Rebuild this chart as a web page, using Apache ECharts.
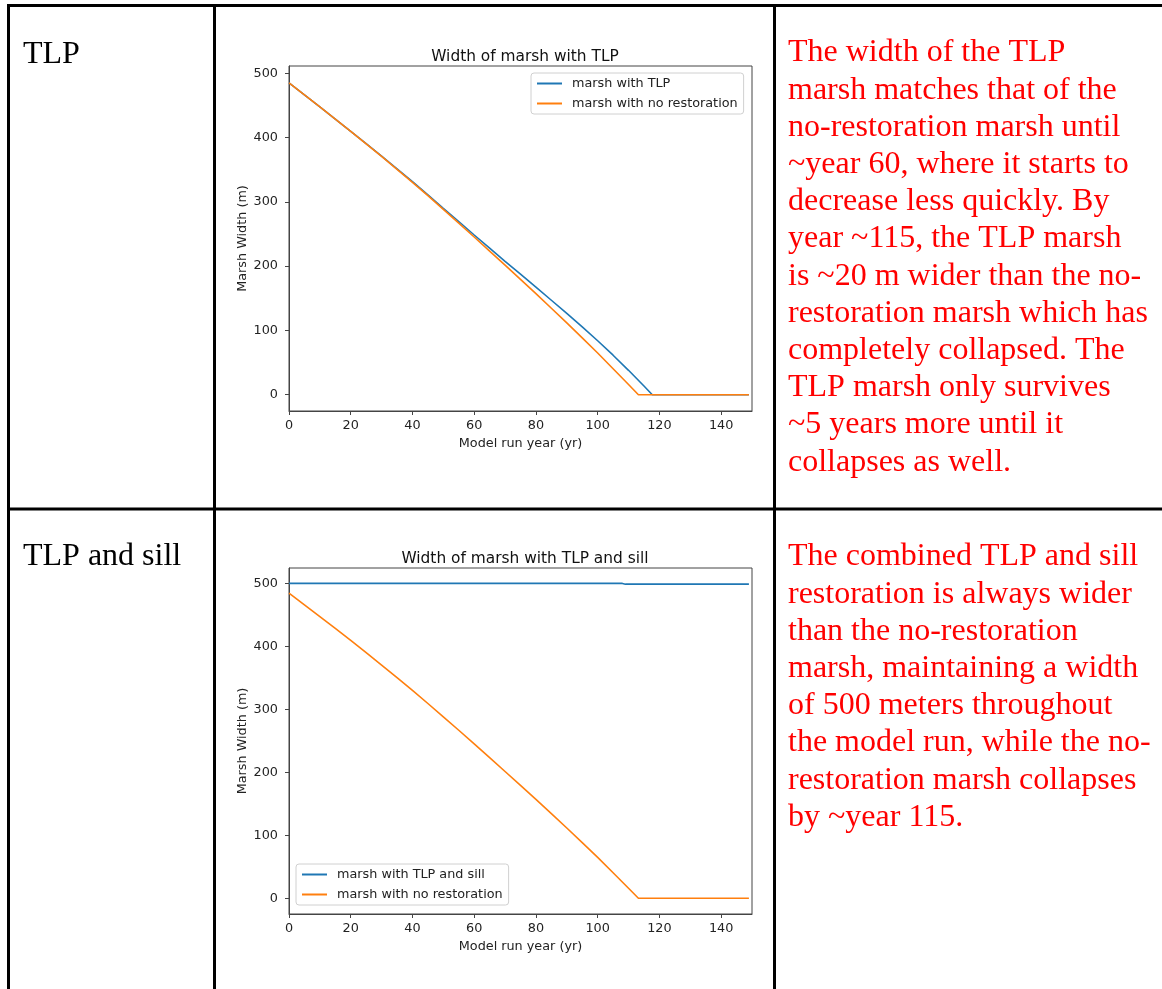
<!DOCTYPE html>
<html>
<head>
<meta charset="utf-8">
<script src="https://cdn.jsdelivr.net/npm/echarts@6/dist/echarts.min.js"></script>
<style>
html,body{margin:0;padding:0;background:#fff;}
#c{width:1162px;height:989px;}
</style>
</head>
<body>
<div id="c"></div>
<script>
// ---- data ----
var years = [0,5,10,15,20,25,30,35,40,45,50,55,60,65,70,75,80,85,90,95,100,105,110,113.2,120,125,130,135,140,145,149];
var noRestoration = [485,466.5,447.8,428.9,409.8,390.4,370.7,350.7,330.4,309.6,288.5,267.1,245.4,223.5,201.5,179.4,157.2,134.6,111.7,88.5,65,40.5,16,0,0,0,0,0,0,0,0];
var tlpYears = [0,5,10,15,20,25,30,35,40,45,50,55,60,65,70,75,80,85,90,95,100,105,110,115,117.7,120,125,130,135,140,145,149];
var tlpWidth = [485,466.5,447.8,428.9,409.8,390.6,371.2,351.5,331.5,311,290,269.5,248.5,228,207.5,187.5,167.5,147,126.5,105.5,84,61.5,38,13.5,0,0,0,0,0,0,0,0];
var sillYears = [0,20,40,60,80,100,108,109,120,140,149];
var sillWidth = [500.5,500.5,500.5,500.5,500.5,500.5,500.5,499.3,499.3,499.3,499.3];
var xTicks = [0,20,40,60,80,100,120,140];
var yTicks = [0,100,200,300,400,500];
var rowLabels = ['TLP','TLP and sill'];
var chartTitles = ['Width of marsh with TLP','Width of marsh with TLP and sill'];
var seriesNames = ['marsh with TLP','marsh with no restoration','marsh with TLP and sill'];
var notes = [
 ['The width of the TLP','marsh matches that of the','no-restoration marsh until','~year 60, where it starts to','decrease less quickly. By','year ~115, the TLP marsh','is ~20 m wider than the no-','restoration marsh which has','completely collapsed. The','TLP marsh only survives','~5 years more until it','collapses as well.'],
 ['The combined TLP and sill','restoration is always wider','than the no-restoration','marsh, maintaining a width','of 500 meters throughout','the model run, while the no-','restoration marsh collapses','by ~year 115.']
];
var xLabel = 'Model run year (yr)';
var yLabel = 'Marsh Width (m)';

function pairs(xs, ys){ return xs.map(function(x,i){ return [x, ys[i]]; }); }

var BLUE = '#1f77b4', ORANGE = '#ff7f0e';
var FONT = 'DejaVu Sans';
var SERIF = 'Liberation Serif';
var FS = 12.8;

function xAxisFor(gi){
  return {
    type:'value', gridIndex:gi, min:0, max:150,
    name:xLabel, nameLocation:'middle', nameGap:26,
    nameTextStyle:{fontFamily:FONT,fontSize:FS,color:'#222'},
    axisLine:{show:true,onZero:false,lineStyle:{color:'#444',width:1}},
    axisTick:{show:true,length:4,customValues:xTicks,lineStyle:{color:'#444'}},
    axisLabel:{customValues:xTicks,margin:8,fontFamily:FONT,fontSize:FS,color:'#222'},
    splitLine:{show:false}
  };
}
function yAxisFor(gi,min,max){
  return {
    type:'value', gridIndex:gi, min:min, max:max,
    name:yLabel, nameLocation:'middle', nameGap:40,
    nameTextStyle:{fontFamily:FONT,fontSize:FS,color:'#222'},
    axisLine:{show:true,onZero:false,lineStyle:{color:'#444',width:1}},
    axisTick:{show:true,length:4,customValues:yTicks,lineStyle:{color:'#444'}},
    axisLabel:{customValues:yTicks,margin:11,fontFamily:FONT,fontSize:FS,color:'#222'},
    splitLine:{show:false}
  };
}

var graphics = [];
function hline(y,x1,x2){ graphics.push({type:'line',shape:{x1:x1,y1:y,x2:x2,y2:y},style:{stroke:'#000',lineWidth:3},z:100}); }
function vline(x,y1,y2){ graphics.push({type:'line',shape:{x1:x,y1:y1,x2:x,y2:y2},style:{stroke:'#000',lineWidth:3},z:100}); }
hline(5.5,7,1162);
hline(509,7,1162);
vline(8.5,4,989);
vline(214.5,4,989);
vline(774.5,4,989);

var labelY = [55,557];
rowLabels.forEach(function(t,i){
  graphics.push({type:'text',x:23,y:labelY[i],style:{text:t,fontFamily:SERIF,fontSize:32,fill:'#000',verticalAlign:'middle',align:'left'}});
});
var noteTop = [53,557];
notes.forEach(function(lines,p){
  lines.forEach(function(t,i){
    graphics.push({type:'text',x:788,y:noteTop[p]+i*37.2,style:{text:t,fontFamily:SERIF,fontSize:32,fill:'#ff0000',verticalAlign:'middle',align:'left'}});
  });
});

function legendFor(names,left,top){
  return {data:names,left:left,top:top,orient:'vertical',
    icon:'rect',itemWidth:25,itemHeight:2,itemGap:5,
    padding:[3,6,3,6],borderColor:'#d0d0d0',borderWidth:1,borderRadius:3,backgroundColor:'#fff',
    textStyle:{fontFamily:FONT,fontSize:FS,color:'#222',lineHeight:15,padding:[0,0,0,5]}};
}

var option = {
  animation:false,
  backgroundColor:'#fff',
  title:[
    {text:chartTitles[0],left:520,top:44,textAlign:'center',textStyle:{fontFamily:FONT,fontSize:15.4,fontWeight:'normal',color:'#111'}},
    {text:chartTitles[1],left:520,top:546,textAlign:'center',textStyle:{fontFamily:FONT,fontSize:15.4,fontWeight:'normal',color:'#111'}}
  ],
  grid:[
    {left:289,top:66,width:463,height:345,show:true,borderColor:'#444',borderWidth:1,backgroundColor:'transparent'},
    {left:289,top:568,width:463,height:346,show:true,borderColor:'#444',borderWidth:1,backgroundColor:'transparent'}
  ],
  xAxis:[xAxisFor(0),xAxisFor(1)],
  yAxis:[yAxisFor(0,-25.3,511.4),yAxisFor(1,-25,525)],
  legend:[
    legendFor([seriesNames[0],seriesNames[1]],531,73),
    legendFor([seriesNames[2],seriesNames[1]],296,864)
  ],
  series:[
    {name:seriesNames[0],type:'line',xAxisIndex:0,yAxisIndex:0,symbol:'none',data:pairs(tlpYears,tlpWidth),lineStyle:{color:BLUE,width:1.6},itemStyle:{color:BLUE},z:2},
    {name:seriesNames[1],type:'line',xAxisIndex:0,yAxisIndex:0,symbol:'none',data:pairs(years,noRestoration),lineStyle:{color:ORANGE,width:1.6},itemStyle:{color:ORANGE},z:3},
    {name:seriesNames[2],type:'line',xAxisIndex:1,yAxisIndex:1,symbol:'none',data:pairs(sillYears,sillWidth),lineStyle:{color:BLUE,width:1.6},itemStyle:{color:BLUE},z:2},
    {name:seriesNames[1],type:'line',xAxisIndex:1,yAxisIndex:1,symbol:'none',data:pairs(years,noRestoration),lineStyle:{color:ORANGE,width:1.6},itemStyle:{color:ORANGE},z:3}
  ],
  graphic:graphics
};
var chart = echarts.init(document.getElementById('c'),null,{renderer:'canvas'});
chart.setOption(option);
</script>
</body>
</html>
